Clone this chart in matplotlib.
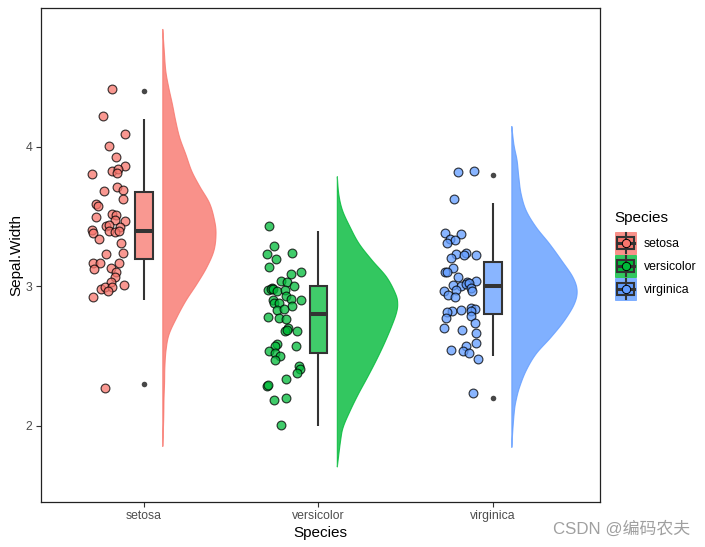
import matplotlib
matplotlib.use("Agg")
import matplotlib.pyplot as plt
import numpy as np
from matplotlib.patches import Rectangle
from matplotlib.lines import Line2D

plt.rcParams['font.family'] = ['Liberation Sans', 'Noto Sans CJK SC', 'DejaVu Sans']

species = ["setosa", "versicolor", "virginica"]
colors = ["#F8766D", "#00BA38", "#619CFF"]
yticks = [2, 3, 4]

setosa_offset = [-.181,-.233,-.107,-.199,-.159,-.107,-.181,-.147,-.153,-.296,-.227,-.153,-.118,-.118,-.273,-.266,
                 -.273,-.181,-.159,-.164,-.107,-.216,-.199,-.136,-.296,-.290,-.199,-.164,-.141,-.256,-.130,-.216,
                 -.118,-.290,-.250,-.285,-.141,-.187,-.159,-.164,-.187,-.113,-.245,-.222,-.181,-.204,-.290,-.222]
setosa_width = [4.413,4.220,4.091,4.005,3.926,3.861,3.828,3.842,3.811,3.804,3.682,3.711,3.689,3.625,3.589,3.577,
                3.496,3.520,3.510,3.477,3.467,3.434,3.441,3.429,3.403,3.381,3.398,3.388,3.395,3.338,3.309,3.231,
                3.238,3.166,3.171,3.123,3.166,3.130,3.102,3.070,3.030,3.008,2.980,2.999,2.994,2.965,2.922,2.270]

versicolor_offset = [-.285,-.256,-.296,-.245,-.153,-.285,-.159,-.101,-.216,-.181,-.141,-.290,-.267,-.273,-.262,-.239,
                     -.193,-.187,-.159,-.101,-.262,-.256,-.227,-.153,-.239,-.199,-.290,-.227,-.187,-.176,-.193,-.181,
                     -.124,-.239,-.250,-.281,-.250,-.218,-.250,-.130,-.113,-.107,-.124,-.187,-.296,-.290,-.256,-.187,-.216]
versicolor_width = [3.431,3.288,3.231,3.195,3.238,3.137,3.087,3.102,3.037,3.030,3.001,2.973,2.987,2.980,2.980,2.965,
                    2.973,2.930,2.913,2.901,2.901,2.879,2.879,2.863,2.829,2.836,2.779,2.772,2.765,2.700,2.683,2.686,
                    2.679,2.590,2.573,2.538,2.521,2.499,2.471,2.573,2.430,2.406,2.380,2.335,2.287,2.292,2.184,2.198,2.005]

virginica_offset = [-.199,-.107,-.222,-.273,-.181,-.245,-.216,-.262,-.153,-.210,-.164,-.096,-.239,-.227,-.273,-.262,
                    -.199,-.096,-.147,-.227,-.181,-.153,-.136,-.128,-.122,-.279,-.210,-.256,-.216,-.233,-.262,-.181,
                    -.124,-.101,-.124,-.267,-.128,-.101,-.279,-.176,-.096,-.096,-.153,-.239,-.170,-.136,-.088,-.113]
virginica_width = [3.818,3.826,3.625,3.381,3.374,3.338,3.331,3.309,3.238,3.231,3.223,3.223,3.202,3.130,3.102,3.102,
                   3.066,3.037,3.030,3.008,3.001,3.016,3.023,2.987,2.970,2.965,2.973,2.937,2.922,2.822,2.815,2.829,
                   2.843,2.836,2.822,2.772,2.786,2.736,2.700,2.686,2.664,2.593,2.571,2.542,2.535,2.521,2.478,2.234]

# box statistics: whisker low, Q1, median, Q3, whisker high
setosa_box = [2.9, 3.2, 3.4, 3.675, 4.2]
versicolor_box = [2.0, 2.525, 2.8, 3.0, 3.4]
virginica_box = [2.5, 2.8, 3.0, 3.175, 3.6]
setosa_out = [4.4, 2.3]
versicolor_out = []
virginica_out = [3.8, 2.2]

# half-violin outlines (level, density width)
setosa_grid = [1.857,2.05,2.2,2.31,2.43,2.55,2.66,2.78,2.90,3.02,3.14,3.26,3.38,3.48,3.60,3.72,3.83,3.95,4.07,4.19,4.31,4.43,4.55,4.70,4.846]
setosa_dens = [0,.005,.007,.010,.012,.019,.036,.080,.132,.195,.252,.293,.305,.296,.268,.212,.166,.132,.097,.074,.055,.034,.017,.008,0]
versicolor_grid = [1.71,1.90,1.995,2.11,2.23,2.35,2.47,2.59,2.71,2.81,2.88,2.95,3.07,3.19,3.31,3.43,3.548,3.66,3.79]
versicolor_dens = [0,.019,.034,.073,.120,.172,.222,.268,.309,.338,.346,.334,.283,.200,.125,.073,.030,.009,0]
virginica_grid = [1.85,1.98,2.115,2.19,2.28,2.40,2.52,2.64,2.76,2.88,2.975,3.07,3.19,3.309,3.429,3.548,3.668,3.787,3.907,4.02,4.15]
virginica_dens = [0,.006,.015,.025,.044,.082,.139,.225,.302,.359,.374,.350,.285,.216,.139,.082,.053,.040,.030,.012,0]

offsets = [setosa_offset, versicolor_offset, virginica_offset]
widths = [setosa_width, versicolor_width, virginica_width]
boxes = [setosa_box, versicolor_box, virginica_box]
outliers = [setosa_out, versicolor_out, virginica_out]
grids = [setosa_grid, versicolor_grid, virginica_grid]
denses = [setosa_dens, versicolor_dens, virginica_dens]


def smooth_path(xs, ys, steps=10):
    """Catmull-Rom curve through the read points, so the outline draws as a curve."""
    p = np.column_stack([xs, ys])
    p = np.vstack([p[0], p, p[-1]])
    out = []
    for k in range(1, len(p) - 2):
        for t in np.linspace(0, 1, steps, endpoint=False):
            out.append(0.5 * (2 * p[k] + (p[k + 1] - p[k - 1]) * t
                              + (2 * p[k - 1] - 5 * p[k] + 4 * p[k + 1] - p[k + 2]) * t ** 2
                              + (3 * p[k] - p[k - 1] - 3 * p[k + 1] + p[k + 2]) * t ** 3))
    out.append(p[-2])
    out = np.array(out)
    return out[:, 0], np.clip(out[:, 1], 0, None)


W, H = 705, 547
fig = plt.figure(figsize=(W / 100, H / 100), dpi=100)
ax = fig.add_axes([41 / W, 1 - 502 / H, 559 / W, 494 / H])
ax.set_xlim(0.41, 3.613)
ax.set_ylim(1.455, 4.996)

BOX_EDGE = "#333333"
VIOLIN_BASE = 0.105
BOX_HALF = 0.05

for i, name in enumerate(species):
    c = colors[i]
    pos = i + 1
    base = pos + VIOLIN_BASE
    gy, gd = smooth_path(grids[i], denses[i])
    ax.fill_betweenx(gy, base, base + gd, facecolor=c, alpha=0.8, edgecolor=c, linewidth=0.8, zorder=2)
    ax.scatter([pos + o for o in offsets[i]], widths[i], s=40, facecolor=c, alpha=0.75,
               edgecolor="black", linewidth=0.85, zorder=3)
    lo, q1, med, q3, hi = boxes[i]
    ax.plot([pos, pos], [lo, q1], color=BOX_EDGE, lw=1.5, zorder=4, solid_capstyle="butt")
    ax.plot([pos, pos], [q3, hi], color=BOX_EDGE, lw=1.5, zorder=4, solid_capstyle="butt")
    ax.add_patch(Rectangle((pos - BOX_HALF, q1), 2 * BOX_HALF, q3 - q1, facecolor=c, alpha=0.75,
                           edgecolor="none", zorder=4))
    ax.add_patch(Rectangle((pos - BOX_HALF, q1), 2 * BOX_HALF, q3 - q1, facecolor="none",
                           edgecolor=BOX_EDGE, linewidth=1.5, zorder=5))
    ax.plot([pos - BOX_HALF, pos + BOX_HALF], [med, med], color=BOX_EDGE, lw=2.9, zorder=5,
            solid_capstyle="butt")
    if outliers[i]:
        ax.scatter([pos] * len(outliers[i]), outliers[i], s=16, color=BOX_EDGE, alpha=0.9,
                   linewidths=0, zorder=4)

ax.set_xticks([1, 2, 3])
ax.set_xticklabels(species)
ax.set_yticks(yticks)
ax.tick_params(axis="both", length=3.5, width=0.8, color="#333333", labelsize=8.8,
               labelcolor="#4D4D4D", pad=2.5)
for spine in ax.spines.values():
    spine.set_linewidth(0.9)
    spine.set_color("#222222")
ax.set_xlabel("Species", fontsize=11, labelpad=2.8)
ax.set_ylabel("Sepal.Width", fontsize=11, labelpad=1.5)

# legend, drawn as figure artists
fig.text(614 / W, 1 - 218 / H, "Species", fontsize=11, va="center", ha="left")
key_tops = [232, 255, 278]
for i, name in enumerate(species):
    c = colors[i]
    top = key_tops[i]
    x0, x1 = 615, 636
    y0 = 1 - (top + 22) / H
    fig.add_artist(Rectangle((x0 / W, y0), (x1 - x0) / W, 22 / H, transform=fig.transFigure,
                             facecolor=c, alpha=0.8, edgecolor=c, linewidth=0.6))
    xm = (x0 + x1) / 2
    ym = top + 11
    fig.add_artist(Line2D([xm / W, xm / W], [1 - (top + 1) / H, 1 - (top + 21) / H],
                          transform=fig.transFigure, color=BOX_EDGE, lw=1.5))
    fig.add_artist(Rectangle(((xm - 8.5) / W, 1 - (ym + 6) / H), 17 / W, 12 / H, transform=fig.transFigure,
                             facecolor=c, edgecolor=BOX_EDGE, linewidth=1.5))
    fig.add_artist(Line2D([(xm - 8.5) / W, (xm + 8.5) / W], [1 - ym / H, 1 - ym / H],
                          transform=fig.transFigure, color=BOX_EDGE, lw=2.2))
    fig.add_artist(Line2D([xm / W], [1 - ym / H], transform=fig.transFigure, marker="o", markersize=6,
                          markerfacecolor=c, markeredgecolor="black", markeredgewidth=0.7,
                          linestyle="none"))
    fig.text(644 / W, 1 - (top + 12) / H, name, fontsize=8.8, va="center", ha="left", color="black")

fig.text(553 / W, 1 - 529 / H, "CSDN @编码农夫", fontsize=12.2, color="#A0A0A0", va="center", ha="left")

fig.savefig("out.png", dpi=100)
